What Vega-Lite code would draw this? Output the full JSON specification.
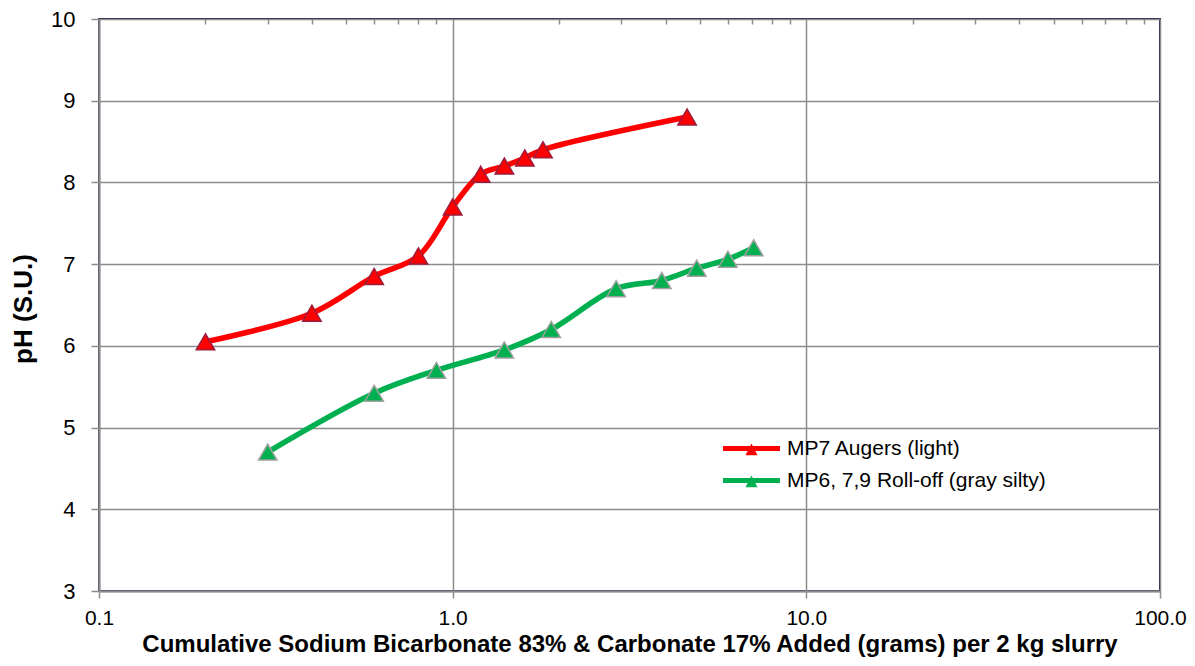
{
  "$schema": "https://vega.github.io/schema/vega-lite/v6.json",
  "width": 1061,
  "height": 572,
  "autosize": {"type": "none"},
  "padding": {"left": 99, "top": 19, "right": 35, "bottom": 75},
  "background": "white",
  "config": {
    "font": "Liberation Sans",
    "view": {"stroke": "#23204f", "strokeWidth": 2},
    "axis": {
      "domainColor": "#8c8c8c",
      "domainWidth": 2,
      "gridColor": "#8c8c8c",
      "gridWidth": 1.5,
      "tickColor": "#8c8c8c",
      "tickWidth": 1.5,
      "labelColor": "#000000",
      "labelFont": "Liberation Sans",
      "labelFontSize": 22,
      "titleColor": "#000000",
      "titleFont": "Liberation Sans",
      "titleFontSize": 24,
      "titleFontWeight": "bold"
    }
  },
  "data": {
    "values": [
      {"grams": 0.2, "pH": 6.05, "series": "MP7 Augers (light)"},
      {"grams": 0.4, "pH": 6.4, "series": "MP7 Augers (light)"},
      {"grams": 0.6, "pH": 6.85, "series": "MP7 Augers (light)"},
      {"grams": 0.8, "pH": 7.1, "series": "MP7 Augers (light)"},
      {"grams": 1.0, "pH": 7.7, "series": "MP7 Augers (light)"},
      {"grams": 1.2, "pH": 8.1, "series": "MP7 Augers (light)"},
      {"grams": 1.4, "pH": 8.2, "series": "MP7 Augers (light)"},
      {"grams": 1.6, "pH": 8.3, "series": "MP7 Augers (light)"},
      {"grams": 1.8, "pH": 8.4, "series": "MP7 Augers (light)"},
      {"grams": 4.6, "pH": 8.8, "series": "MP7 Augers (light)"},
      {"grams": 0.3, "pH": 4.7, "series": "MP6, 7,9 Roll-off (gray silty)"},
      {"grams": 0.6, "pH": 5.42, "series": "MP6, 7,9 Roll-off (gray silty)"},
      {"grams": 0.9, "pH": 5.7, "series": "MP6, 7,9 Roll-off (gray silty)"},
      {"grams": 1.4, "pH": 5.95, "series": "MP6, 7,9 Roll-off (gray silty)"},
      {"grams": 1.9, "pH": 6.2, "series": "MP6, 7,9 Roll-off (gray silty)"},
      {"grams": 2.9, "pH": 6.7, "series": "MP6, 7,9 Roll-off (gray silty)"},
      {"grams": 3.9, "pH": 6.8, "series": "MP6, 7,9 Roll-off (gray silty)"},
      {"grams": 4.9, "pH": 6.95, "series": "MP6, 7,9 Roll-off (gray silty)"},
      {"grams": 6.0, "pH": 7.06, "series": "MP6, 7,9 Roll-off (gray silty)"},
      {"grams": 7.1, "pH": 7.2, "series": "MP6, 7,9 Roll-off (gray silty)"}
    ]
  },
  "encoding": {
    "y": {
      "field": "pH",
      "type": "quantitative",
      "scale": {"domain": [3, 10], "nice": false, "zero": false},
      "axis": {
        "values": [3, 4, 5, 6, 7, 8, 9, 10],
        "grid": true,
        "tickSize": 8,
        "labelPadding": 16,
        "title": "pH (S.U.)",
        "titleFontSize": 26,
        "titleX": -67.5,
        "titleY": 289.5,
        "titleAlign": "center",
        "titleBaseline": "alphabetic",
        "titleAngle": -90
      }
    }
  },
  "layer": [
    {
      "mark": {"type": "line", "interpolate": "catmull-rom", "strokeWidth": 5.5},
      "encoding": {
        "x": {
          "field": "grams",
          "type": "quantitative",
          "scale": {"type": "log", "domain": [0.1, 100], "nice": false},
          "axis": {
            "values": [0.1, 1, 10, 100],
            "format": ".1f",
            "grid": true,
            "tickSize": 7,
            "labelPadding": 9,
            "labelFontSize": 21,
            "labelFlush": false,
            "title": "Cumulative Sodium Bicarbonate 83% & Carbonate 17% Added (grams) per 2 kg  slurry",
            "titleY": 60,
            "titleBaseline": "alphabetic"
          }
        },
        "color": {
          "field": "series",
          "type": "nominal",
          "scale": {"domain": ["MP6, 7,9 Roll-off (gray silty)", "MP7 Augers (light)"], "range": ["#00b050", "#ff0000"]},
          "legend": null
        }
      }
    },
    {
      "mark": {"type": "point", "shape": "triangle-up", "filled": true, "size": 340, "strokeWidth": 1.5, "opacity": 1},
      "encoding": {
        "x": {
          "field": "grams",
          "type": "quantitative",
          "scale": {"type": "log", "domain": [0.1, 100], "nice": false},
          "axis": {
            "values": [0.2, 0.3, 0.4, 0.5, 0.6, 0.7, 0.8, 0.9, 2, 3, 4, 5, 6, 7, 8, 9, 20, 30, 40, 50, 60, 70, 80, 90],
            "tickSize": -5,
            "labels": false,
            "domain": false,
            "grid": false,
            "title": null
          }
        },
        "fill": {
          "field": "series",
          "type": "nominal",
          "scale": {"domain": ["MP7 Augers (light)", "MP6, 7,9 Roll-off (gray silty)"], "range": ["#ff0000", "#00b050"]},
          "legend": {
            "title": null,
            "orient": "none",
            "legendX": 642,
            "legendY": 419,
            "symbolType": "M-3.56,-0.31H3.56V0.31H-3.56Z M0,-0.63L0.75,0.83L-0.75,0.83Z",
            "symbolSize": 256,
            "symbolStrokeWidth": 0,
            "symbolOpacity": 1,
            "labelFontSize": 21,
            "labelFont": "Liberation Sans",
            "labelColor": "#000000",
            "labelLimit": 500,
            "labelOffset": 25,
            "rowPadding": 10,
            "padding": 0
          }
        },
        "stroke": {
          "field": "series",
          "type": "nominal",
          "scale": {"domain": ["MP6, 7,9 Roll-off (gray silty)", "MP7 Augers (light)"], "range": ["#a0a0a0", "#9b1c3c"]},
          "legend": null
        }
      }
    }
  ],
  "resolve": {"axis": {"x": "independent"}}
}
